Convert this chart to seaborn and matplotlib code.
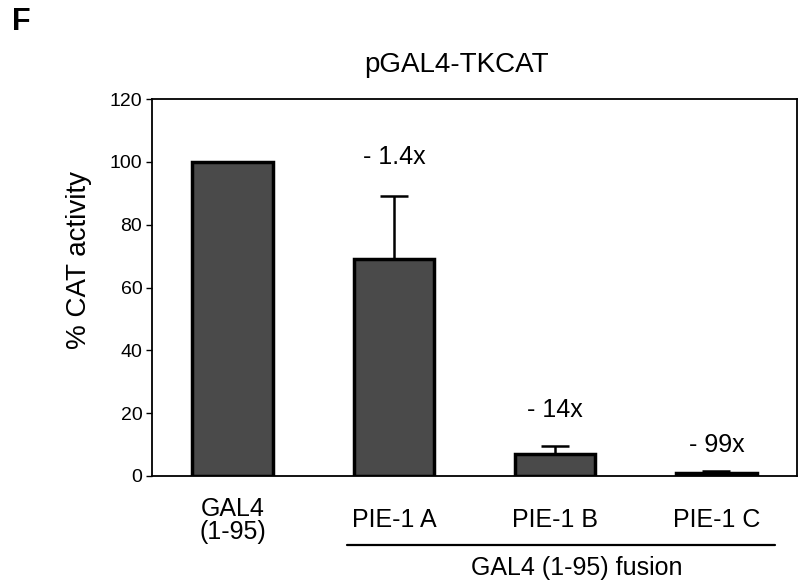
import matplotlib
matplotlib.use("Agg")
import matplotlib.pyplot as plt
import seaborn as sns
import pandas as pd
import numpy as np

categories = ["GAL4\n(1-95)", "PIE-1 A", "PIE-1 B", "PIE-1 C"]
values = [100, 69, 7, 1]
errors = [0, 20, 2.5, 0.7]
fold_labels = ["", "- 1.4x", "- 14x", "- 99x"]
label_y = [None, 101.5, 21, 10]
yticks = [0, 20, 40, 60, 80, 100, 120]

sns.set_theme(style="white")
plt.rcParams['font.family'] = ['Liberation Sans', 'DejaVu Sans']
plt.rcParams['text.color'] = 'black'
plt.rcParams['xtick.color'] = 'black'
plt.rcParams['ytick.color'] = 'black'
plt.rcParams['axes.labelcolor'] = 'black'

df = pd.DataFrame({"cat": categories, "val": values})

fig = plt.figure(figsize=(8, 5.85), dpi=100)
ax = fig.add_axes([152/800, 1-476/585, (797-152)/800, (476-99)/585])

sns.barplot(data=df, x="cat", y="val", ax=ax, color="#4a4a4a", width=0.5,
            edgecolor="black", linewidth=2.5, saturation=1, errorbar=None)

x = np.arange(len(categories))
for i in range(len(categories)):
    if errors[i] > 0:
        ax.errorbar(x[i], values[i] + errors[i]/2, yerr=[[errors[i]/2], [errors[i]/2]],
                    fmt="none", ecolor="black", elinewidth=1.8, capsize=10, capthick=1.8)
    if fold_labels[i]:
        ax.text(x[i], label_y[i], fold_labels[i], ha="center", va="center", fontsize=18, color="black")

ax.set_ylim(0, 120)
ax.set_xlim(-0.5, 3.5)
ax.set_yticks(yticks)
ax.set_yticklabels([str(t) for t in yticks], fontsize=14)
ax.set_xticks(x)
ax.set_xticklabels(categories, fontsize=18, linespacing=0.95)
for lbl in ax.get_xticklabels():
    lbl.set_verticalalignment("center")
ax.tick_params(axis="x", which="major", length=0, pad=32)
ax.set_xticks([0.5, 1.5, 2.5], minor=True)
ax.tick_params(axis="x", which="minor", direction="inout", length=8, width=1, color="black")
ax.tick_params(axis="y", which="major", direction="out", length=4, width=1, color="black", left=True, pad=3)
ax.set_xlabel("")
ax.set_ylabel("% CAT activity", fontsize=20)
ax.yaxis.label.set_verticalalignment("center")
ax.yaxis.set_label_coords((79 - 152) / 645, (476 - 260) / 377)
for s in ax.spines.values():
    s.set_color("black")
    s.set_linewidth(1.3)

fig.text(457/800, 1-65/585, "pGAL4-TKCAT", ha="center", va="center", fontsize=20)
fig.text(12/800, 1-22/585, "F", ha="left", va="center", fontsize=22, fontweight="bold")

# group bracket
fig.add_artist(plt.Line2D([347/800, 775/800], [1-545/585, 1-545/585], color="black", linewidth=1.6))
fig.text(577/800, 1-568/585, "GAL4 (1-95) fusion", ha="center", va="center", fontsize=18)

fig.savefig("out.png", dpi=100, facecolor="white")
